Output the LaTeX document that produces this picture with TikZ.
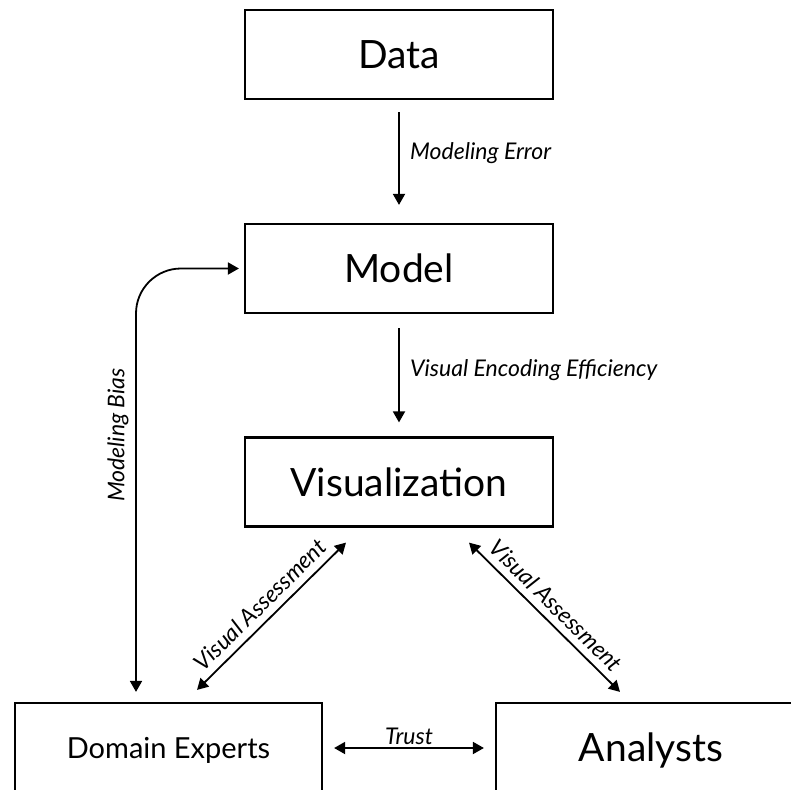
\documentclass[tikz,border=0pt]{standalone}
\usepackage{fontspec}
\setmainfont{Lato}
\usetikzlibrary{arrows.meta}
\begin{document}
\begin{tikzpicture}[x=1pt,y=-1pt,
  box/.style={draw, line width=2.2pt, minimum width=308pt, minimum height=89pt, inner sep=0pt, font=\fontsize{39}{40}\selectfont},
  conn/.style={line width=1.8pt, -{Triangle[length=11pt,width=12pt]}},
  biconn/.style={line width=1.8pt, {Triangle[length=11pt,width=12pt]}-{Triangle[length=11pt,width=12pt]}},
  lbl/.style={font=\fontsize{23}{25}\selectfont\itshape, inner sep=2pt}]
\useasboundingbox (0,0) rectangle (791,789);
\node[box] (data) at (399,54.5) {Data};
\node[box] (model) at (399,268.5) {Model};
\node[box] (vis) at (399,482) {Visualization};
\node[box, minimum height=94pt, minimum width=307pt, font=\fontsize{29}{31}\selectfont] (de) at (168.5,750) {Domain Experts};
\node[box, minimum height=94pt, minimum width=310pt] (an) at (651,750) {Analysts};

\draw[conn, shorten <=12pt, shorten >=18pt] (data) -- (model);
\node[lbl, anchor=west] (me) at (408,153) {Modeling Error};
\draw[conn, shorten <=14pt, shorten >=14pt] (model) -- (vis);
\node[lbl, anchor=west] (vee) at (408,370) {Visual Encoding Efficiency};

\draw[biconn] ([xshift=28.5pt,yshift=12pt]de.north) -- node[lbl, sloped, above=5pt, midway] (va1) {Visual Assessment} ([xshift=-53pt,yshift=-15pt]vis.south);
\draw[biconn] ([xshift=70pt,yshift=-15pt]vis.south) -- node[lbl, sloped, above=5pt, midway] (va2) {Visual Assessment} ([xshift=-31pt,yshift=10pt]an.north);

\draw[biconn, shorten <=11pt, shorten >=11pt] ([yshift=2pt]de.east) -- node[lbl, above, midway] (tr) {Trust} ([yshift=2pt]an.west);

\draw[biconn, rounded corners=45pt] ([xshift=-32.5pt,yshift=10pt]de.north) |- ([xshift=-5pt]model.west);
\node[lbl, rotate=90] (mb) at (118,435) {Modeling Bias};
\end{tikzpicture}
\end{document}
